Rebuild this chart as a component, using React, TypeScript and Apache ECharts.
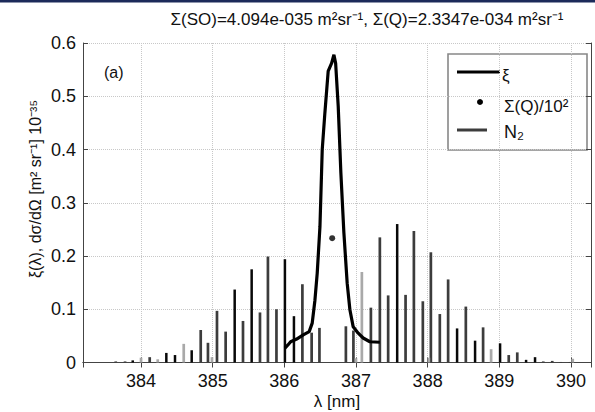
import React, { useEffect, useRef } from "react";
import * as echarts from "echarts";

// N2 lines, grouped by drawing shade (wavelength in nm, value in 1e-35 m^2 sr^-1)
const darkLambda = [383.647, 383.777, 384.121, 384.833, 384.934, 385.060, 385.181, 385.423, 385.660, 385.771, 385.890, 386.252, 386.381, 386.490, 386.859, 386.964, 387.208, 387.333, 387.449, 387.692, 387.808, 387.933, 388.045, 388.170, 388.286, 388.533, 388.774, 389.132, 389.251, 389.614, 389.739, 389.858, 389.983];
const darkValue = [0.002, 0.002, 0.010, 0.061, 0.037, 0.097, 0.058, 0.078, 0.094, 0.199, 0.100, 0.147, 0.056, 0.065, 0.068, 0.060, 0.103, 0.235, 0.126, 0.127, 0.247, 0.115, 0.207, 0.091, 0.156, 0.105, 0.066, 0.014, 0.019, 0.002, 0.003, 0.001, 0.001];
const blackLambda = [383.884, 384.353, 384.474, 384.707, 385.307, 385.544, 386.008, 386.134, 387.575, 388.411, 388.662, 389.011, 389.374, 389.499];
const blackValue = [0.004, 0.018, 0.014, 0.023, 0.137, 0.175, 0.194, 0.087, 0.260, 0.064, 0.041, 0.036, 0.005, 0.010];
const lightLambda = [384.000, 384.233, 384.596, 384.990, 387.000, 387.082, 388.017, 388.886, 390.025];
const lightValue = [0.009, 0.006, 0.035, 0.010, 0.008, 0.170, 0.009, 0.025, 0.007];

// xi(lambda) curve
const xiLambda = [386.008, 386.050, 386.088, 386.172, 386.264, 386.347, 386.389, 386.427, 386.459, 386.497, 386.529, 386.566, 386.612, 386.660, 386.692, 386.716, 386.752, 386.789, 386.831, 386.877, 386.915, 386.961, 387.031, 387.100, 387.194, 387.333];
const xiValue = [0.027, 0.033, 0.039, 0.044, 0.052, 0.058, 0.074, 0.117, 0.168, 0.255, 0.400, 0.469, 0.547, 0.562, 0.578, 0.562, 0.481, 0.356, 0.244, 0.149, 0.099, 0.067, 0.055, 0.046, 0.039, 0.038];

// Sigma(Q)/10^2 point
const sigmaQLambda = [386.668];
const sigmaQValue = [0.2335];

const xMin = 383.19;
const xMax = 390.28;
const yMin = 0;
const yMax = 0.6;

const titleText = "Σ(SO)=4.094e-035 m²sr⁻¹, Σ(Q)=2.3347e-034 m²sr⁻¹";
const yLabelText = "ξ(λ), dσ/dΩ [m² sr⁻¹] 10⁻³⁵";
const xLabelText = "λ [nm]";
const legendLabels = ["ξ", "Σ(Q)/10²", "N₂"];

const FONT = "'Liberation Sans', Arial, Helvetica, sans-serif";

function zip(a: number[], b: number[]) {
  return a.map((v, i) => [v, b[i]]);
}

function barSeries(name: string, lam: number[], val: number[], color: string, w: number) {
  return {
    type: "custom",
    name,
    xAxisIndex: 0,
    yAxisIndex: 0,
    z: 2,
    data: zip(lam, val),
    encode: { x: 0, y: 1 },
    renderItem: (_p: any, api: any) => {
      const x = api.value(0);
      const v = api.value(1);
      const p0 = api.coord([x, 0]);
      const p1 = api.coord([x, v]);
      return {
        type: "rect",
        shape: { x: p0[0] - w / 2, y: p1[1], width: w, height: Math.max(p0[1] - p1[1], 0.8) },
        style: { fill: color },
      };
    },
  };
}

export default function App() {
  const ref = useRef<HTMLDivElement>(null);
  useEffect(() => {
    document.body.style.margin = "0";
    if (!ref.current) return;
    const chart = echarts.init(ref.current, null, { renderer: "svg" });
    const axisLine = { show: true, lineStyle: { color: "#444", width: 1 } };
    chart.setOption({
      animation: false,
      backgroundColor: "#fff",
      grid: { left: 83, right: 4, top: 43, bottom: 49.5 },
      xAxis: [
        {
          type: "value",
          min: xMin,
          max: xMax,
          minInterval: 1,
          maxInterval: 1,
          position: "bottom",
          axisLine,
          axisTick: { show: true, inside: true, length: 5, lineStyle: { color: "#444" } },
          axisLabel: { fontSize: 18, color: "#111", margin: 9, fontFamily: FONT, showMinLabel: false, showMaxLabel: false },
          splitLine: { show: true, lineStyle: { type: "dotted", color: "#c8c8c8", width: 1 } },
        },
        {
          type: "value",
          min: xMin,
          max: xMax,
          minInterval: 1,
          maxInterval: 1,
          position: "top",
          axisLine,
          axisTick: { show: true, inside: true, length: 5, lineStyle: { color: "#444" } },
          axisLabel: { show: false },
          splitLine: { show: false },
        },
      ],
      yAxis: [
        {
          type: "value",
          min: yMin,
          max: yMax,
          interval: 0.1,
          position: "left",
          axisLine,
          axisTick: { show: true, inside: true, length: 5, lineStyle: { color: "#444" } },
          axisLabel: { fontSize: 18, color: "#111", margin: 7, fontFamily: FONT },
          splitLine: { show: true, lineStyle: { type: "dotted", color: "#c8c8c8", width: 1 } },
        },
        {
          type: "value",
          min: yMin,
          max: yMax,
          interval: 0.1,
          position: "right",
          axisLine,
          axisTick: { show: true, inside: true, length: 5, lineStyle: { color: "#444" } },
          axisLabel: { show: false },
          splitLine: { show: false },
        },
      ],
      series: [
        barSeries("N₂", darkLambda, darkValue, "#3c3c3c", 2.7),
        barSeries("N₂ b", lightLambda, lightValue, "#a9a9a9", 2.7),
        barSeries("N₂ c", blackLambda, blackValue, "#080808", 2.5),
        {
          type: "line",
          name: "ξ",
          data: zip(xiLambda, xiValue),
          showSymbol: false,
          symbol: "none",
          lineStyle: { color: "#000", width: 3.2 },
          z: 5,
        },
        {
          type: "scatter",
          name: "Σ(Q)/10²",
          data: zip(sigmaQLambda, sigmaQValue),
          symbol: "circle",
          symbolSize: 6,
          itemStyle: { color: "#000" },
          z: 6,
        },
      ],
      graphic: [
        { type: "rect", shape: { x: 0, y: 0, width: 595, height: 2.5 }, style: { fill: "#1c2a5a" }, z: 10 },
        {
          type: "text",
          x: 367,
          y: 19,
          style: { text: titleText, fontSize: 17, fontFamily: FONT, fill: "#111", align: "center", verticalAlign: "middle" },
        },
        {
          type: "text",
          x: 35,
          y: 189,
          rotation: Math.PI / 2,
          style: { text: yLabelText, fontSize: 16, fontFamily: FONT, fill: "#111", align: "center", verticalAlign: "middle" },
        },
        {
          type: "text",
          x: 337,
          y: 401,
          style: { text: xLabelText, fontSize: 17, fontFamily: FONT, fill: "#111", align: "center", verticalAlign: "middle" },
        },
        {
          type: "text",
          x: 104,
          y: 72,
          style: { text: "(a)", fontSize: 16, fontFamily: FONT, fill: "#111", align: "left", verticalAlign: "middle" },
        },
        {
          type: "group",
          z: 20,
          children: [
            { type: "rect", shape: { x: 448, y: 54, width: 139, height: 96 }, style: { fill: "#fff", stroke: "#888", lineWidth: 1.6 } },
            { type: "line", shape: { x1: 457, y1: 72, x2: 500, y2: 72 }, style: { stroke: "#000", lineWidth: 3 } },
            { type: "text", x: 502, y: 75, style: { text: legendLabels[0], fontSize: 17, fontFamily: FONT, fill: "#111", align: "left", verticalAlign: "middle" } },
            { type: "circle", shape: { cx: 480, cy: 102, r: 3 }, style: { fill: "#000" } },
            { type: "text", x: 504, y: 106, style: { text: legendLabels[1], fontSize: 17, fontFamily: FONT, fill: "#111", align: "left", verticalAlign: "middle" } },
            { type: "line", shape: { x1: 457, y1: 130, x2: 487, y2: 130 }, style: { stroke: "#3c3c3c", lineWidth: 3 } },
            { type: "text", x: 504, y: 132, style: { text: legendLabels[2], fontSize: 18, fontFamily: FONT, fill: "#111", align: "left", verticalAlign: "middle" } },
          ],
        },
      ],
    });
    return () => chart.dispose();
  }, []);
  return <div ref={ref} style={{ width: 595, height: 412 }} />;
}
